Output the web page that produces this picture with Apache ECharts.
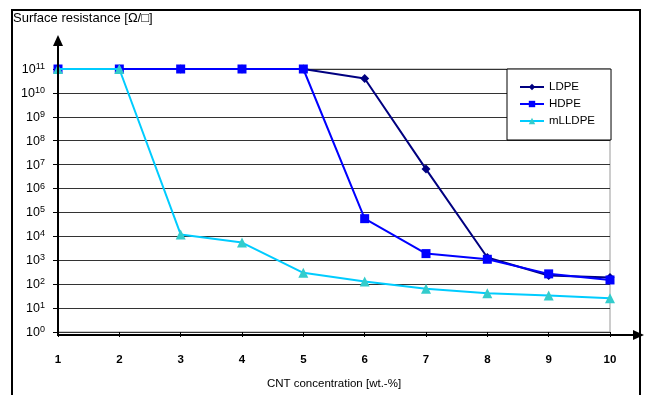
<!DOCTYPE html>
<html><head><meta charset="utf-8">
<script src="https://cdn.jsdelivr.net/npm/echarts@6/dist/echarts.min.js"></script>
<style>html,body{margin:0;padding:0;background:#fff}#c{width:645px;height:395px}</style>
</head><body><div id="c"></div>
<script>
var concentrations = [1, 2, 3, 4, 5, 6, 7, 8, 9, 10];
var ldpe   = [1e11, 1e11, 1e11, 1e11, 1e11, 4e10, 6.5e6, 1.3e3, 2.3e2, 1.9e2];
var hdpe   = [1e11, 1e11, 1e11, 1e11, 1e11, 5.5e4, 1.9e3, 1.1e3, 2.7e2, 1.5e2];
var mlldpe = [1e11, 1e11, 1.2e4, 5.5e3, 3e2, 1.3e2, 6.5e1, 4.2e1, 3.4e1, 2.6e1];
var seriesNames = ['LDPE', 'HDPE', 'mLLDPE'];
var yTitle = 'Surface resistance [Ω/□]';
var xTitle = 'CNT concentration [wt.-%]';

function pairs(vals){ return concentrations.map(function(x,i){ return [x, vals[i]]; }); }
var font = 'Liberation Sans, Arial, sans-serif';
var chart = echarts.init(document.getElementById('c'), null, {renderer:'canvas'});
chart.setOption({
  animation:false,
  backgroundColor:'#fff',
  textStyle:{fontFamily:font},
  grid:{left:58, right:35, top:69, bottom:60, show:true, borderColor:'#999', borderWidth:1, backgroundColor:'transparent'},
  title:{text:yTitle, left:8, top:7, textStyle:{fontSize:13, fontWeight:'normal', color:'#000', fontFamily:font}},
  legend:{
    data:seriesNames, orient:'vertical', left:507, top:69,
    backgroundColor:'#fff', borderColor:'#000', borderWidth:1, padding:[12,16,13,12],
    itemWidth:24, itemHeight:8, itemGap:5,
    textStyle:{fontSize:11.5, color:'#000', fontFamily:font, lineHeight:12}
  },
  xAxis:{
    type:'value', min:1, max:10, interval:1,
    name:xTitle, nameLocation:'middle', nameGap:46,
    nameTextStyle:{fontSize:11.5, color:'#000', fontFamily:font},
    axisLine:{show:false},
    axisTick:{show:true, inside:false, length:5, lineStyle:{color:'#000'}},
    axisLabel:{fontSize:11.5, fontWeight:'bold', color:'#000', margin:22, fontFamily:font},
    splitLine:{show:false}
  },
  yAxis:{
    type:'log', logBase:10, min:1, max:1e11, interval:1,
    axisLine:{show:false},
    axisTick:{show:true, inside:false, length:5, lineStyle:{color:'#000'}},
    splitLine:{show:true, lineStyle:{color:'#333', width:1}},
    minorTick:{show:false},
    axisLabel:{
      margin:13, color:'#000', fontFamily:font,
      formatter:function(v){ var e=Math.round(Math.log10(v)); return '{b|10}{s|'+e+'}'; },
      rich:{
        b:{fontSize:12.5, color:'#000', fontFamily:font, lineHeight:14, verticalAlign:'bottom'},
        s:{fontSize:9, color:'#000', fontFamily:font, lineHeight:14, verticalAlign:'top'}
      }
    }
  },
  graphic:[
    {type:'rect', shape:{x:12, y:10, width:628, height:400}, style:{fill:'none', stroke:'#000', lineWidth:2}, silent:true, z:-1},
    {type:'line', shape:{x1:58, y1:336, x2:58, y2:44}, style:{stroke:'#000', lineWidth:2}, z:100},
    {type:'polygon', shape:{points:[[58,35],[53,46],[63,46]]}, style:{fill:'#000'}, z:100},
    {type:'line', shape:{x1:57, y1:335, x2:635, y2:335}, style:{stroke:'#000', lineWidth:2}, z:100},
    {type:'polygon', shape:{points:[[644,335],[633,330],[633,340]]}, style:{fill:'#000'}, z:100}
  ],
  series:[
    {name:'LDPE', type:'line', data:pairs(ldpe), symbol:'diamond', symbolSize:9,
      lineStyle:{color:'#000080', width:2}, itemStyle:{color:'#000080'}, z:3},
    {name:'HDPE', type:'line', data:pairs(hdpe), symbol:'rect', symbolSize:9,
      lineStyle:{color:'#0000ff', width:2}, itemStyle:{color:'#0000ff'}, z:4},
    {name:'mLLDPE', type:'line', data:pairs(mlldpe), symbol:'triangle', symbolSize:10,
      lineStyle:{color:'#00ccff', width:2}, itemStyle:{color:'#33cccc'}, z:5}
  ]
});
</script></body></html>
